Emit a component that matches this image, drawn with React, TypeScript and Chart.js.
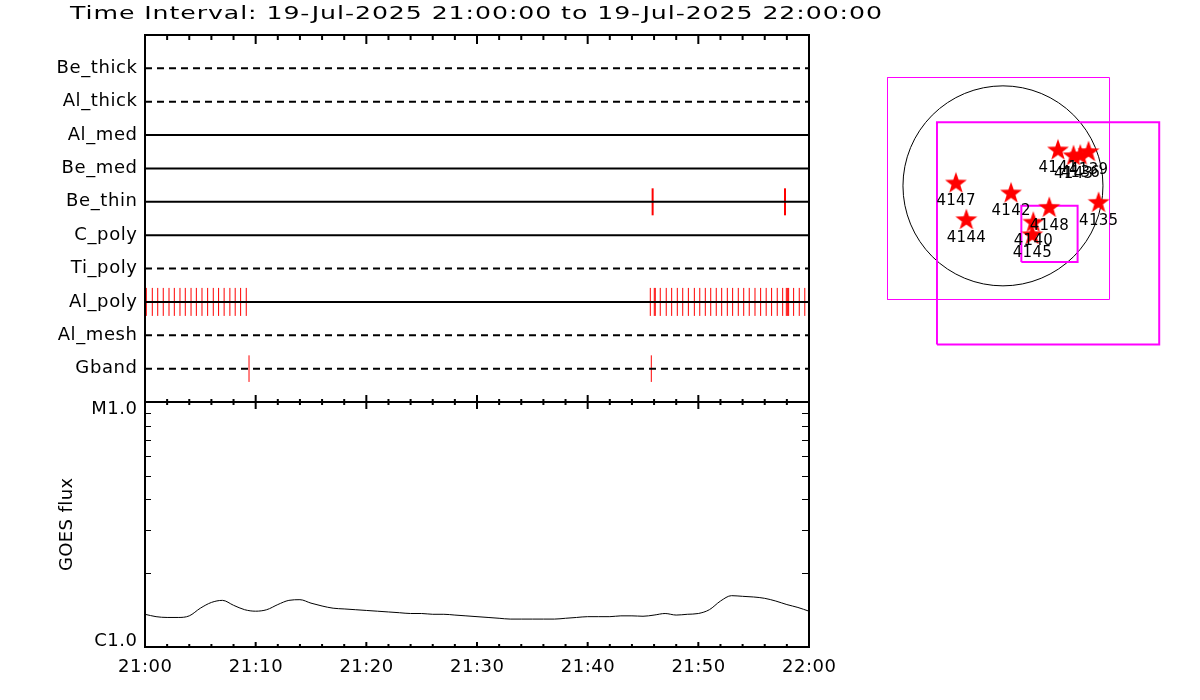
import React, { useEffect, useRef } from 'react';
import { Chart, registerables } from 'chart.js';
Chart.register(...registerables);

const FONT = '"DejaVu Sans", sans-serif';

// ---------------- data ----------------
const titleText = 'Time Interval: 19-Jul-2025 21:00:00 to 19-Jul-2025 22:00:00';

// filter rows, bottom (y=1) to top (y=10)
const filterNames = ['Gband', 'Al_mesh', 'Al_poly', 'Ti_poly', 'C_poly', 'Be_thin', 'Be_med', 'Al_med', 'Al_thick', 'Be_thick'];
const filterDashed = [true, true, false, true, false, false, false, false, true, true];

// observation times, minutes after 21:00
const alPolyMinutes = [
  0.12, 0.66, 1.15, 1.65, 2.17, 2.65, 3.16, 3.64, 4.16, 4.64, 5.15, 5.66, 6.17, 6.65, 7.15, 7.67, 8.15, 8.64, 9.15,
  45.66, 46.02, 46.11, 46.56, 47.10, 47.59, 48.10, 48.59, 49.10, 49.64, 50.13, 50.63, 51.12, 51.62, 52.11, 52.62,
  53.10, 53.61, 54.10, 54.60, 55.12, 55.63, 56.13, 56.62, 57.13, 57.62, 57.95, 58.07, 58.16, 58.61, 59.12, 59.62,
];
const beThinMinutes = [45.87, 57.83];
const gbandMinutes = [9.4, 45.75];

const timeTickMinutes = [0, 10, 20, 30, 40, 50, 60];
const timeTickLabels = ['21:00', '21:10', '21:20', '21:30', '21:40', '21:50', '22:00'];

const goesMinutes = [
  0, 1, 2, 3, 4, 5, 6, 7, 8, 9, 10, 11, 12, 13, 14, 15, 16, 17, 18, 19, 20,
  21, 22, 23, 24, 25, 26, 27, 28, 29, 30, 31, 32, 33, 34, 35, 36, 37, 38, 39, 40,
  41, 42, 43, 44, 45, 46, 47, 48, 49, 50, 51, 52, 53, 54, 55, 56, 57, 58, 59, 60,
];
const goesFlux = [
  1.36e-6, 1.33e-6, 1.32e-6, 1.32e-6, 1.34e-6, 1.44e-6, 1.52e-6, 1.55e-6, 1.48e-6, 1.42e-6, 1.40e-6,
  1.42e-6, 1.49e-6, 1.55e-6, 1.56e-6, 1.51e-6, 1.47e-6, 1.44e-6, 1.43e-6, 1.42e-6, 1.41e-6,
  1.40e-6, 1.39e-6, 1.38e-6, 1.37e-6, 1.37e-6, 1.36e-6, 1.36e-6, 1.35e-6, 1.34e-6, 1.33e-6,
  1.32e-6, 1.31e-6, 1.30e-6, 1.30e-6, 1.30e-6, 1.30e-6, 1.30e-6, 1.31e-6, 1.32e-6, 1.33e-6,
  1.33e-6, 1.33e-6, 1.34e-6, 1.34e-6, 1.335e-6, 1.35e-6, 1.37e-6, 1.35e-6, 1.36e-6, 1.37e-6,
  1.42e-6, 1.54e-6, 1.62e-6, 1.61e-6, 1.60e-6, 1.58e-6, 1.54e-6, 1.49e-6, 1.45e-6, 1.40e-6,
];
const fluxTickValues = [1e-6, 1e-5];
const fluxTickLabels = ['C1.0', 'M1.0'];
const fluxAxisTitle = 'GOES flux';

// solar disk panel (arcsec)
const sunRadiusArcsec = 944;
const fovCenterX = [-42, 426, 439];
const fovCenterY = [-25, -449, -453];
const fovSize = [2095.7, 2098, 531];
const fovLineWidth = [1, 2, 2];

const regionLabels = ['4147', '4144', '4142', '4148', '4140', '4145', '4135', '4141', '4143', '4136', '4139'];
const regionX = [-444, -346, 76, 437, 286, 277, 903, 519, 666, 730, 808];
const regionY = [32, -314, -62, -198, -338, -456, -151, 344, 290, 296, 328];

// ---------------- helpers ----------------
function drawLabel(ctx: CanvasRenderingContext2D, text: string, x: number, y: number,
  align: 'left' | 'right' | 'center', size: number, spacing = 0, scaleX = 1) {
  ctx.save();
  ctx.font = `${size}px ${FONT}`;
  ctx.fillStyle = '#000';
  ctx.textBaseline = 'middle';
  ctx.textAlign = 'left';
  (ctx as any).letterSpacing = '0px';
  const w0 = ctx.measureText(text).width * scaleX;
  const w = w0 + spacing * (text.length - 1);
  (ctx as any).letterSpacing = `${spacing / scaleX}px`;
  let sx = x;
  if (align === 'right') sx = x - w;
  else if (align === 'center') sx = x - w / 2;
  ctx.translate(sx, y);
  ctx.scale(scaleX, 1);
  ctx.fillText(text, 0, 0);
  ctx.restore();
}

function fitSpacing(ctx: CanvasRenderingContext2D, text: string, size: number, width: number, scaleX = 1) {
  ctx.save();
  ctx.font = `${size}px ${FONT}`;
  (ctx as any).letterSpacing = '0px';
  const w0 = ctx.measureText(text).width * scaleX;
  ctx.restore();
  return (width - w0) / (text.length - 1);
}

function seg(ctx: CanvasRenderingContext2D, x1: number, y1: number, x2: number, y2: number) {
  ctx.beginPath();
  ctx.moveTo(x1, y1);
  ctx.lineTo(x2, y2);
  ctx.stroke();
}

function makeStar(): HTMLCanvasElement {
  const c = document.createElement('canvas');
  c.width = 26; c.height = 26;
  const g = c.getContext('2d')!;
  g.fillStyle = '#ff0000';
  g.beginPath();
  const R = 11.5, r = 4.6, cx = 13, cy = 14;
  for (let i = 0; i < 10; i++) {
    const ang = -Math.PI / 2 + i * Math.PI / 5;
    const rad = i % 2 === 0 ? R : r;
    const px = cx + rad * Math.cos(ang), py = cy + rad * Math.sin(ang);
    if (i === 0) g.moveTo(px, py); else g.lineTo(px, py);
  }
  g.closePath();
  g.fill();
  return c;
}

const baseOptions = (padding: any) => ({
  animation: false as const,
  responsive: false,
  maintainAspectRatio: false,
  devicePixelRatio: 1,
  events: [] as any[],
  layout: { padding },
  plugins: { legend: { display: false }, tooltip: { enabled: false }, title: { display: false } },
});

// ---------------- top panel ----------------
function topConfig(): any {
  const rowSets = filterNames.map((name, i) => ({
    label: name,
    data: [{ x: 0, y: i + 1 }, { x: 60, y: i + 1 }],
    showLine: true,
    borderColor: '#000',
    borderWidth: 2,
    borderDash: filterDashed[i] ? [7, 5] : [],
    borderCapStyle: 'butt',
    pointRadius: 0,
    order: 0,
  }));
  const tickSet = (mins: number[], name: string, half: number, w: number) => ({
    label: name + ' exposures',
    data: mins.map((m) => ({ x: m, y: filterNames.indexOf(name) + 1 })),
    showLine: false,
    pointStyle: 'line',
    pointRotation: 90,
    pointRadius: half,
    pointBorderColor: '#ff0000',
    pointBorderWidth: w,
    pointBackgroundColor: '#ff0000',
    order: 1,
  });
  const frame = {
    id: 'topFrame',
    afterDatasetsDraw(chart: any) {
      const { ctx, chartArea: a, scales: { x, y } } = chart;
      ctx.save();
      ctx.strokeStyle = '#000';
      ctx.lineWidth = 2;
      ctx.strokeRect(a.left, a.top, a.right - a.left, a.bottom - a.top);
      for (let m = 0; m <= 60; m += 2) {
        const px = x.getPixelForValue(m);
        const major = m % 10 === 0;
        seg(ctx, px, a.top, px, a.top + (major ? 9 : 5));
        seg(ctx, px, a.bottom, px, a.bottom - (major ? 7 : 3));
      }
      ctx.restore();
      filterNames.forEach((n, i) => drawLabel(ctx, n, a.left - 8, y.getPixelForValue(i + 1), 'right', 18, 0.6));
      const sx = 1.4;
      const sp = fitSpacing(ctx, titleText, 18, 812, sx);
      drawLabel(ctx, titleText, 70, 14, 'left', 18, sp, sx);
    },
  };
  return {
    type: 'scatter',
    data: {
      datasets: [
        ...rowSets,
        tickSet(alPolyMinutes, 'Al_poly', 14, 1),
        tickSet(beThinMinutes, 'Be_thin', 13.5, 2),
        tickSet(gbandMinutes, 'Gband', 13.3, 1),
      ],
    },
    options: {
      ...baseOptions({ left: 145, top: 35, right: 391, bottom: 298 }),
      scales: {
        x: { type: 'linear', min: 0, max: 60, display: false },
        y: { type: 'linear', min: 0, max: 11, display: false },
      },
    },
    plugins: [frame],
  };
}

// ---------------- GOES panel ----------------
function goesConfig(): any {
  const frame = {
    id: 'goesFrame',
    afterDatasetsDraw(chart: any) {
      const { ctx, chartArea: a, scales: { x, y } } = chart;
      ctx.save();
      ctx.strokeStyle = '#000';
      ctx.lineWidth = 2;
      ctx.strokeRect(a.left, a.top, a.right - a.left, a.bottom - a.top);
      for (let m = 0; m <= 60; m += 2) {
        const px = x.getPixelForValue(m);
        const major = m % 10 === 0;
        seg(ctx, px, a.top, px, a.top + (major ? 7 : 3));
        seg(ctx, px, a.bottom, px, a.bottom - (major ? 5 : 3));
      }
      ctx.lineWidth = 1;
      for (let k = 2; k <= 9; k++) {
        const py = Math.round(y.getPixelForValue(k * fluxTickValues[0])) + 0.5;
        seg(ctx, a.left, py, a.left + 6, py);
        seg(ctx, a.right, py, a.right - 7, py);
      }
      ctx.restore();
      timeTickMinutes.forEach((m, i) => drawLabel(ctx, timeTickLabels[i], x.getPixelForValue(m), a.bottom + 20, 'center', 18, 0.5));
      fluxTickValues.forEach((v, i) => {
        const py = y.getPixelForValue(v) + (i === 0 ? -6 : 7);
        drawLabel(ctx, fluxTickLabels[i], a.left - 8, py, 'right', 18, 0.5);
      });
      ctx.save();
      ctx.translate(67, (a.top + a.bottom) / 2);
      ctx.rotate(-Math.PI / 2);
      drawLabel(ctx, fluxAxisTitle, 0, 0, 'center', 18, 0.4);
      ctx.restore();
    },
  };
  return {
    type: 'scatter',
    data: {
      datasets: [{
        label: 'GOES flux',
        data: goesMinutes.map((m, i) => ({ x: m, y: goesFlux[i] })),
        showLine: true,
        borderColor: '#000',
        borderWidth: 1,
        pointRadius: 0,
        cubicInterpolationMode: 'monotone',
      }],
    },
    options: {
      ...baseOptions({ left: 145, top: 402, right: 391, bottom: 53 }),
      scales: {
        x: { type: 'linear', min: 0, max: 60, display: false },
        y: { type: 'logarithmic', min: fluxTickValues[0], max: fluxTickValues[1], display: false },
      },
    },
    plugins: [frame],
  };
}

// ---------------- disk panel ----------------
function diskConfig(star: HTMLCanvasElement): any {
  const boxSets = fovCenterX.map((cx, i) => {
    const h = fovSize[i] / 2, cy = fovCenterY[i];
    return {
      label: 'FOV ' + (i + 1),
      data: [
        { x: cx - h, y: cy - h }, { x: cx + h, y: cy - h }, { x: cx + h, y: cy + h },
        { x: cx - h, y: cy + h }, { x: cx - h, y: cy - h },
      ],
      showLine: true,
      borderColor: '#ff00ff',
      borderWidth: fovLineWidth[i],
      pointRadius: 0,
      tension: 0,
      order: 2,
    };
  });
  const starSet = {
    label: 'Active regions',
    data: regionX.map((x, i) => ({ x, y: regionY[i] })),
    showLine: false,
    pointStyle: star,
    pointRadius: 11,
    order: 1,
    clip: false,
  };
  const disk = {
    id: 'sunDisk',
    beforeDatasetsDraw(chart: any) {
      const { ctx, scales: { x, y } } = chart;
      const cx = x.getPixelForValue(0), cy = y.getPixelForValue(0);
      const r = x.getPixelForValue(sunRadiusArcsec) - cx;
      ctx.save();
      ctx.strokeStyle = '#000';
      ctx.lineWidth = 1;
      ctx.beginPath();
      ctx.arc(cx, cy, r, 0, Math.PI * 2);
      ctx.stroke();
      ctx.restore();
    },
    afterDatasetsDraw(chart: any) {
      const { ctx, scales: { x, y } } = chart;
      regionLabels.forEach((t, i) => {
        drawLabel(ctx, t, x.getPixelForValue(regionX[i]), y.getPixelForValue(regionY[i]) + 19, 'center', 15, 0.3);
      });
    },
  };
  return {
    type: 'scatter',
    data: { datasets: [...boxSets, starSet] },
    options: {
      ...baseOptions({ left: 854.66, top: 26.955, right: 16.95, bottom: 323.469 }),
      scales: {
        x: { type: 'linear', min: -1400, max: 1700, display: false },
        y: { type: 'linear', min: -1800, max: 1500, display: false },
      },
    },
    plugins: [disk],
  };
}

export default function App() {
  const topRef = useRef<HTMLCanvasElement>(null);
  const goesRef = useRef<HTMLCanvasElement>(null);
  const diskRef = useRef<HTMLCanvasElement>(null);
  useEffect(() => {
    const star = makeStar();
    const charts = [
      new Chart(topRef.current!, topConfig()),
      new Chart(goesRef.current!, goesConfig()),
      new Chart(diskRef.current!, diskConfig(star)),
    ];
    return () => charts.forEach((c) => c.destroy());
  }, []);
  const cs: React.CSSProperties = { position: 'absolute', left: 0, top: 0, width: 1200, height: 700 };
  return (
    <div style={{ position: 'absolute', left: 0, top: 0, width: 1200, height: 700, background: '#fff', overflow: 'hidden' }}>
      <canvas ref={topRef} width={1200} height={700} style={cs} />
      <canvas ref={goesRef} width={1200} height={700} style={cs} />
      <canvas ref={diskRef} width={1200} height={700} style={cs} />
    </div>
  );
}
